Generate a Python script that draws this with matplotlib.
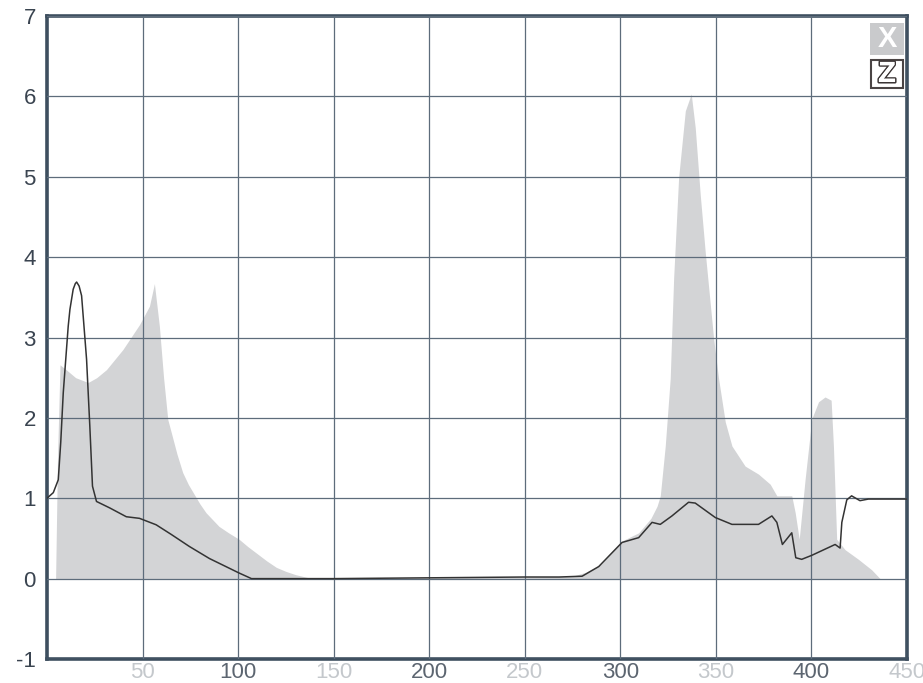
import matplotlib
matplotlib.use("Agg")
import matplotlib.pyplot as plt
from matplotlib.patches import Rectangle
import matplotlib.patheffects as pe

# ---- data ----
gray_x = [0, 4.5, 5.5, 6.8, 10, 15, 21.5, 26, 31.1, 39.7, 48.4, 53.6, 56.2, 58.8, 61, 63.2, 65,
          68, 71, 74, 77, 80, 83.2, 90, 95, 100.5, 105, 110, 115, 120, 125, 130, 137, 150, 200,
          250, 275, 282, 290, 301, 309.6, 316, 319.2, 320.9, 323.5, 326.1, 327.9, 330.5, 334,
          337.1, 339.2, 341.8, 344.4, 348.8, 351.4, 354.9, 358.4, 365.3, 372.3, 378.4, 381.9,
          389.7, 391.5, 393.6, 396.7, 400.2, 403.7, 407.1, 410.3, 411.5, 413.2, 417.6, 424.6,
          431.5, 435.9, 450]
gray_y = [0, 0, 1.5, 2.66, 2.6, 2.5, 2.44, 2.5, 2.60, 2.85, 3.16, 3.39, 3.67, 3.14, 2.5, 1.98,
          1.82, 1.55, 1.32, 1.17, 1.05, 0.93, 0.82, 0.65, 0.57, 0.49, 0.40, 0.31, 0.22, 0.14,
          0.09, 0.05, 0.01, 0, 0.01, 0.02, 0.03, 0.08, 0.18, 0.47, 0.57, 0.75, 0.90, 1.03, 1.65,
          2.49, 3.74, 4.99, 5.82, 6.03, 5.61, 4.78, 4.07, 2.99, 2.49, 1.95, 1.65, 1.40, 1.30,
          1.175, 1.03, 1.03, 0.82, 0.49, 1.24, 1.99, 2.20, 2.26, 2.22, 1.65, 0.49, 0.36, 0.24,
          0.11, 0, 0]

line_x = [0, 3.3, 5.9, 7.2, 8.5, 11.1, 12, 13.7, 14.8, 15.5, 16.8, 18.1, 20.7, 22.4, 23.8,
          25.9, 32.8, 41.5, 48.4, 57.1, 65, 74.5, 85, 100.5, 107, 150, 200, 250, 268, 280,
          288.7, 295.6, 300.9, 309.6, 316.6, 320.9, 327, 335.7, 339.2, 349.7, 358.4, 372.3,
          379.3, 381.9, 384.8, 389.7, 391.8, 394.9, 400.2, 412.4, 415, 415.9, 418.5, 421,
          425.4, 429.8, 450]
line_y = [1, 1.07, 1.23, 1.7, 2.31, 3.14, 3.35, 3.6, 3.67, 3.69, 3.64, 3.52, 2.73, 1.9, 1.15,
          0.96, 0.88, 0.77, 0.75, 0.67, 0.55, 0.40, 0.25, 0.07, 0.0, 0.0, 0.01, 0.02, 0.02,
          0.03, 0.15, 0.32, 0.45, 0.51, 0.70, 0.675, 0.78, 0.95, 0.94, 0.76, 0.675, 0.675,
          0.78, 0.70, 0.425, 0.57, 0.26, 0.24, 0.29, 0.425, 0.38, 0.70, 0.98, 1.03, 0.97,
          0.99, 0.99]

x_ticks = [50, 100, 150, 200, 250, 300, 350, 400, 450]
x_tick_labels = ["50", "100", "150", "200", "250", "300", "350", "400", "450"]
y_ticks = [-1, 0, 1, 2, 3, 4, 5, 6, 7]
y_tick_labels = ["-1", "0", "1", "2", "3", "4", "5", "6", "7"]

# ---- figure ----
plt.rcParams['font.family'] = ['Liberation Sans', 'DejaVu Sans']
fig = plt.figure(figsize=(9.23, 6.83), dpi=100)
ax = fig.add_axes([47/923, 24/683, 860/923, 643/683])

frame_col = '#3e4f5f'
grid_col = '#5d6c7b'

ax.fill_between(gray_x, gray_y, 0, color='#d3d4d6', linewidth=0, zorder=1)
ax.plot(line_x, line_y, color='#333333', linewidth=1.1, zorder=3)

ax.set_xlim(0, 450)
ax.set_ylim(-1, 7)
ax.set_xticks(x_ticks)
ax.set_xticklabels(x_tick_labels)
ax.set_yticks(y_ticks)
ax.set_yticklabels(y_tick_labels)
ax.set_axisbelow(False)
ax.grid(True, color=grid_col, linewidth=0.9)

for s in ax.spines.values():
    s.set_color(frame_col)
    s.set_linewidth(2.6)

ax.tick_params(axis='both', length=0, labelsize=16)
ax.tick_params(axis='x', pad=2)
ax.tick_params(axis='y', pad=8, labelcolor='#3a4450')
for i, lab in enumerate(ax.get_xticklabels()):
    lab.set_color('#c4c8cc' if i % 2 == 0 else '#5c6570')

# legend-like icons top right
fig.patches.append(Rectangle((870/923, (683-55)/683), 34/923, 32/683,
                             transform=fig.transFigure, facecolor='#c9cacc',
                             edgecolor='none', zorder=5))
fig.text(887/923, (683-39)/683, "X", color='white', fontsize=21, fontweight='bold',
         ha='center', va='center', zorder=6)
fig.patches.append(Rectangle((871/923, (683-88)/683), 32/923, 28/683,
                             transform=fig.transFigure, facecolor='white',
                             edgecolor='#4a4444', linewidth=1.5, zorder=5))
fig.text(887/923, (683-74)/683, "Z", color='white', fontsize=21, fontweight='bold',
         ha='center', va='center', zorder=6,
         path_effects=[pe.withStroke(linewidth=2.2, foreground='#3a3434'),
                       pe.Normal()])

fig.savefig("out.png", dpi=100)
